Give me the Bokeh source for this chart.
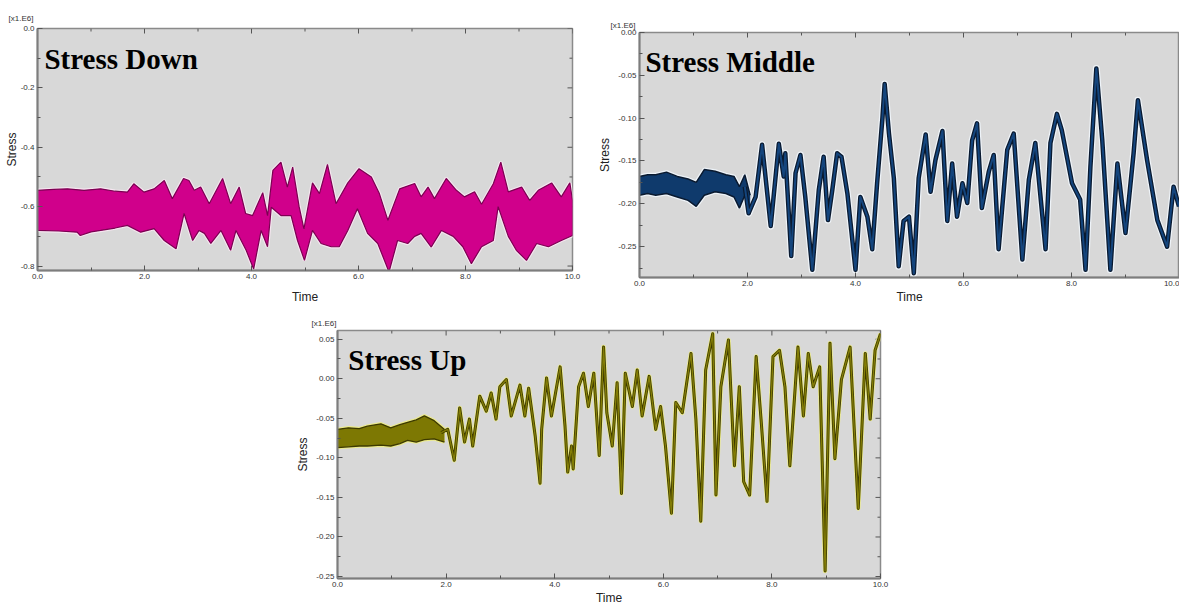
import math
from bokeh.plotting import figure
from bokeh.layouts import column, row
from bokeh.models import FixedTicker, NumeralTickFormatter, Label, Spacer, ColumnDataSource
from bokeh.embed import file_html
from bokeh.resources import INLINE

# ---------------- data (stress in x1.E6) ----------------
# Stress Down: upper / lower envelope of the oscillating band
down_upper_t = [0.0, 0.3, 0.56, 0.87, 1.18, 1.45, 1.68, 1.80, 1.99, 2.18, 2.37, 2.52, 2.73, 2.83, 2.93, 3.05,
                3.21, 3.46, 3.61, 3.77, 3.89, 4.02, 4.21, 4.30, 4.40, 4.55, 4.67, 4.77, 4.89, 4.98, 5.14, 5.27,
                5.42, 5.58, 5.80, 6.01, 6.24, 6.39, 6.55, 6.77, 7.05, 7.17, 7.30, 7.42, 7.64, 7.83, 7.98, 8.17,
                8.30, 8.52, 8.66, 8.80, 9.05, 9.20, 9.36, 9.61, 9.79, 9.95, 10.0]
down_upper_v = [-0.545, -0.542, -0.540, -0.545, -0.540, -0.548, -0.551, -0.523, -0.551, -0.540, -0.512, -0.573,
                -0.505, -0.512, -0.545, -0.534, -0.590, -0.505, -0.590, -0.534, -0.623, -0.630, -0.553, -0.630,
                -0.478, -0.450, -0.534, -0.467, -0.600, -0.675, -0.520, -0.556, -0.458, -0.590, -0.520, -0.472,
                -0.500, -0.556, -0.646, -0.540, -0.522, -0.567, -0.534, -0.573, -0.505, -0.545, -0.567, -0.550,
                -0.592, -0.523, -0.450, -0.550, -0.534, -0.579, -0.545, -0.520, -0.567, -0.520, -0.579]
down_lower_t = [0.0, 0.4, 0.74, 0.80, 1.0, 1.18, 1.45, 1.68, 1.93, 2.18, 2.37, 2.59, 2.74, 2.90, 3.02, 3.12,
                3.24, 3.43, 3.61, 3.71, 3.90, 4.04, 4.18, 4.30, 4.37, 4.55, 4.74, 4.86, 4.99, 5.14, 5.30, 5.49,
                5.64, 5.80, 5.98, 6.17, 6.36, 6.57, 6.73, 6.92, 7.05, 7.17, 7.36, 7.55, 7.77, 7.95, 8.11, 8.30,
                8.52, 8.61, 8.80, 8.95, 9.14, 9.33, 9.55, 9.79, 10.0]
down_lower_v = [-0.680, -0.682, -0.686, -0.697, -0.685, -0.680, -0.672, -0.663, -0.686, -0.674, -0.714, -0.742,
                -0.623, -0.714, -0.680, -0.690, -0.724, -0.680, -0.747, -0.680, -0.747, -0.810, -0.680, -0.735,
                -0.602, -0.630, -0.630, -0.714, -0.781, -0.680, -0.724, -0.735, -0.735, -0.680, -0.607, -0.690,
                -0.724, -0.820, -0.714, -0.724, -0.700, -0.690, -0.736, -0.680, -0.700, -0.735, -0.792, -0.735,
                -0.714, -0.600, -0.700, -0.747, -0.781, -0.724, -0.735, -0.714, -0.697]

# Stress Middle: early noisy band, then the trace
mid_band_t = [0.0, 0.15, 0.3, 0.5, 0.7, 0.9, 1.05, 1.2, 1.4, 1.6, 1.75, 1.85, 1.95, 2.05]
mid_band_upper = [-0.168, -0.166, -0.166, -0.163, -0.168, -0.171, -0.175, -0.160, -0.162, -0.166, -0.168,
                  -0.180, -0.166, -0.190]
mid_band_lower = [-0.190, -0.188, -0.190, -0.188, -0.192, -0.196, -0.203, -0.190, -0.186, -0.188, -0.192,
                  -0.205, -0.190, -0.212]
mid_trace_t = [1.95, 2.02, 2.15, 2.27, 2.43, 2.58, 2.67, 2.70, 2.81, 2.89, 2.98, 3.07, 3.20, 3.32, 3.41, 3.49,
               3.57, 3.66, 3.74, 3.85, 4.00, 4.09, 4.22, 4.31, 4.40, 4.50, 4.54, 4.62, 4.71, 4.80, 4.89, 4.99,
               5.08, 5.17, 5.30, 5.39, 5.48, 5.61, 5.70, 5.79, 5.88, 5.98, 6.07, 6.16, 6.25, 6.34, 6.47, 6.56,
               6.65, 6.81, 6.93, 7.09, 7.21, 7.33, 7.52, 7.61, 7.73, 7.82, 8.01, 8.16, 8.26, 8.35, 8.46, 8.57,
               8.72, 8.85, 9.00, 9.15, 9.23, 9.40, 9.59, 9.77, 9.89, 9.99]
mid_trace_v = [-0.180, -0.211, -0.192, -0.131, -0.226, -0.130, -0.168, -0.141, -0.261, -0.164, -0.143, -0.192,
               -0.277, -0.184, -0.145, -0.219, -0.184, -0.141, -0.145, -0.188, -0.277, -0.192, -0.215, -0.253,
               -0.176, -0.099, -0.060, -0.118, -0.170, -0.273, -0.220, -0.215, -0.281, -0.170, -0.119, -0.186,
               -0.149, -0.115, -0.220, -0.153, -0.215, -0.176, -0.199, -0.126, -0.106, -0.205, -0.162, -0.143,
               -0.253, -0.137, -0.118, -0.265, -0.172, -0.129, -0.253, -0.129, -0.095, -0.114, -0.176, -0.195,
               -0.277, -0.157, -0.042, -0.126, -0.277, -0.153, -0.234, -0.141, -0.079, -0.149, -0.219, -0.250,
               -0.180, -0.203]

# Stress Up: early noisy band, then the trace
up_band_t = [0.0, 0.2, 0.4, 0.55, 0.8, 0.98, 1.15, 1.29, 1.45, 1.60, 1.78, 1.97]
up_band_upper = [-0.064, -0.062, -0.063, -0.060, -0.057, -0.062, -0.058, -0.055, -0.052, -0.047, -0.053, -0.064]
up_band_lower = [-0.087, -0.086, -0.085, -0.085, -0.084, -0.085, -0.082, -0.078, -0.080, -0.077, -0.076, -0.080]
up_trace_t = [1.91, 2.03, 2.15, 2.25, 2.34, 2.43, 2.49, 2.62, 2.74, 2.83, 2.92, 2.99, 3.11, 3.20, 3.36, 3.45,
              3.52, 3.64, 3.73, 3.76, 3.85, 3.94, 4.10, 4.19, 4.24, 4.31, 4.34, 4.44, 4.53, 4.62, 4.72, 4.82,
              4.90, 4.96, 5.06, 5.15, 5.23, 5.30, 5.43, 5.52, 5.61, 5.74, 5.86, 5.95, 6.04, 6.15, 6.23, 6.35,
              6.51, 6.60, 6.69, 6.78, 6.91, 6.97, 7.06, 7.20, 7.31, 7.40, 7.48, 7.59, 7.71, 7.80, 7.91, 8.02,
              8.14, 8.24, 8.33, 8.48, 8.58, 8.67, 8.76, 8.88, 8.98, 9.07, 9.16, 9.28, 9.44, 9.59, 9.72, 9.81,
              9.90, 10.0]
up_trace_v = [-0.068, -0.064, -0.103, -0.037, -0.080, -0.051, -0.085, -0.022, -0.041, -0.018, -0.051, -0.010,
              -0.001, -0.047, -0.008, -0.047, -0.012, -0.072, -0.132, -0.064, 0.001, -0.047, 0.015, -0.060,
              -0.118, -0.085, -0.114, -0.010, 0.007, -0.035, 0.007, -0.097, 0.040, -0.043, -0.085, -0.005,
              -0.145, 0.007, -0.035, 0.011, -0.047, 0.003, -0.064, -0.035, -0.085, -0.170, -0.030, -0.043,
              0.032, -0.051, -0.180, 0.011, 0.057, -0.147, -0.010, 0.049, -0.110, -0.010, -0.130, -0.147,
              0.028, -0.051, -0.155, 0.028, 0.036, -0.010, -0.110, 0.040, -0.047, 0.032, -0.010, 0.015,
              -0.243, 0.045, -0.101, -0.001, 0.040, -0.164, 0.032, -0.051, 0.036, 0.057]

# ticks and labels
x_ticks = [0, 2, 4, 6, 8, 10]
x_minor = [1, 3, 5, 7, 9]
down_y_ticks = [0.0, -0.2, -0.4, -0.6, -0.8]
down_y_minor = [-0.1, -0.3, -0.5, -0.7]
mid_y_ticks = [0.0, -0.05, -0.10, -0.15, -0.20, -0.25]
mid_y_minor = [-0.025, -0.075, -0.125, -0.175, -0.225, -0.275]
up_y_ticks = [0.05, 0.0, -0.05, -0.10, -0.15, -0.20, -0.25]
up_y_minor = [0.025, -0.025, -0.075, -0.125, -0.175, -0.225]
titles = ["Stress Down", "Stress Middle", "Stress Up"]
scale_text = "[x1.E6]"
x_label = "Time"
y_label = "Stress"

TICK_COLOR = "#555555"


def style_axis(ax, label, label_standoff):
    ax.axis_line_color = "#7d7d7d"
    ax.axis_line_width = 2
    ax.major_tick_in = 5
    ax.major_tick_out = 0
    ax.minor_tick_in = 3
    ax.minor_tick_out = 0
    ax.major_tick_line_color = TICK_COLOR
    ax.minor_tick_line_color = TICK_COLOR
    ax.major_label_text_font = "Liberation Sans"
    ax.major_label_text_font_size = "8px"
    ax.major_label_text_color = "#333333"
    ax.major_label_standoff = 3
    ax.axis_label = label
    ax.axis_label_standoff = label_standoff
    ax.axis_label_text_font = "Liberation Sans"
    ax.axis_label_text_font_size = "12px"
    ax.axis_label_text_font_style = "normal"
    ax.axis_label_text_color = "#222222"


def make_fig(width, height, y_range, borders, yticks, yminor, yfmt, title_offset, title_standoff,
             xlab_standoff, ylab_standoff, right_ticks=True):
    l, t, r, b = borders
    p = figure(width=width, height=height, x_range=(0, 10), y_range=y_range,
               output_backend="svg", toolbar_location=None, frame_align=False,
               min_border_left=l, min_border_top=t, min_border_right=r, min_border_bottom=b,
               title=scale_text)
    p.title.text_font = "Liberation Sans"
    p.title.text_font_size = "8px"
    p.title.text_font_style = "normal"
    p.title.text_color = "#333333"
    p.title.align = "left"
    p.title.offset = title_offset
    p.title.standoff = title_standoff
    p.background_fill_color = "#d8d8d8"
    p.border_fill_color = "white"
    p.outline_line_color = "#8a8a8a"
    p.outline_line_width = 1.5
    p.grid.visible = False

    p.xaxis.ticker = FixedTicker(ticks=x_ticks, minor_ticks=x_minor)
    p.xaxis.formatter = NumeralTickFormatter(format="0.0")
    p.yaxis.ticker = FixedTicker(ticks=yticks, minor_ticks=yminor)
    p.yaxis.formatter = NumeralTickFormatter(format=yfmt)
    style_axis(p.xaxis[0], x_label, xlab_standoff)
    style_axis(p.yaxis[0], y_label, ylab_standoff)

    # inward ticks on the top edge (and right edge) of the frame
    y_top = y_range[1]
    p.ray(x=x_ticks, y=[y_top] * len(x_ticks), length=5, length_units="screen",
          angle=-math.pi / 2, line_color=TICK_COLOR, line_width=1)
    p.ray(x=x_minor, y=[y_top] * len(x_minor), length=3, length_units="screen",
          angle=-math.pi / 2, line_color=TICK_COLOR, line_width=1)
    if right_ticks:
        p.ray(x=[10] * len(yticks), y=yticks, length=5, length_units="screen",
              angle=math.pi, line_color=TICK_COLOR, line_width=1)
        p.ray(x=[10] * len(yminor), y=yminor, length=3, length_units="screen",
              angle=math.pi, line_color=TICK_COLOR, line_width=1)
    return p


def title_label(p, x, y, text):
    p.add_layout(Label(x=x, y=y, text=text, text_font="Liberation Serif", text_font_size="29px",
                       text_font_style="bold", text_color="#000000", text_baseline="alphabetic"))


# ---------------- panel 1: Stress Down ----------------
p1 = make_fig(590, 306, (-0.815, 0.0), (37, 28, 18, 36), down_y_ticks, down_y_minor, "0.0", -29, 11, 8, -1)
xs = down_upper_t + down_lower_t[::-1]
ys = down_upper_v + down_lower_v[::-1]
p1.patch(xs, ys, fill_color=None, line_color="#f6e6f0", line_width=3.5)
p1.patch(xs, ys, fill_color="#d0008b", line_color="#7c0052", line_width=1.2)
title_label(p1, 0.13, -0.104, titles[0])

# ---------------- panel 2: Stress Middle ----------------
p2 = make_fig(589, 306, (-0.286, 0.0), (49, 32, 0, 28), mid_y_ticks, mid_y_minor, "0.00", -29, 6, 1, 3,
              right_ticks=False)
src_mb = ColumnDataSource(dict(t=mid_band_t, u=mid_band_upper, lo=mid_band_lower))
src_mt = ColumnDataSource(dict(t=mid_trace_t, v=mid_trace_v))
p2.line("t", "v", source=src_mt, line_color="#eef3f8", line_width=7, line_join="round")
p2.varea("t", "lo", "u", source=src_mb, fill_color="#eef3f8")
p2.line("t", "u", source=src_mb, line_color="#eef3f8", line_width=4)
p2.line("t", "lo", source=src_mb, line_color="#eef3f8", line_width=4)
p2.varea("t", "lo", "u", source=src_mb, fill_color="#0f3a6c")
p2.line("t", "u", source=src_mb, line_color="#0a1a30", line_width=1.5)
p2.line("t", "lo", source=src_mb, line_color="#0a1a30", line_width=1.5)
p2.line("t", "v", source=src_mt, line_color="#0a1a30", line_width=4.5, line_join="round")
p2.line("t", "v", source=src_mt, line_color="#14457d", line_width=2, line_join="round")
title_label(p2, 0.11, -0.035, titles[1])

# ---------------- panel 3: Stress Up ----------------
p3 = make_fig(610, 301, (-0.2525, 0.061), (47, 24, 20, 28), up_y_ticks, up_y_minor, "0.00", -26, 5, 1, 3)
src_ub = ColumnDataSource(dict(t=up_band_t, u=up_band_upper, lo=up_band_lower))
src_ut = ColumnDataSource(dict(t=up_trace_t, v=up_trace_v))
p3.line("t", "v", source=src_ut, line_color="#eceb8a", line_width=4.5, line_join="round")
p3.varea("t", "lo", "u", source=src_ub, fill_color="#eceb8a")
p3.line("t", "u", source=src_ub, line_color="#eceb8a", line_width=3.5)
p3.line("t", "lo", source=src_ub, line_color="#eceb8a", line_width=3.5)
p3.varea("t", "lo", "u", source=src_ub, fill_color="#7d7803")
p3.line("t", "u", source=src_ub, line_color="#3d3a00", line_width=1.3)
p3.line("t", "lo", source=src_ub, line_color="#3d3a00", line_width=1.3)
p3.line("t", "v", source=src_ut, line_color="#3d3a00", line_width=3, line_join="round")
p3.line("t", "v", source=src_ut, line_color="#837d05", line_width=1.4, line_join="round")
title_label(p3, 0.2, 0.024, titles[2])

layout = column(row(p1, p2), row(Spacer(width=290, height=301), p3))
open("out.html", "w").write(file_html(layout, INLINE))
